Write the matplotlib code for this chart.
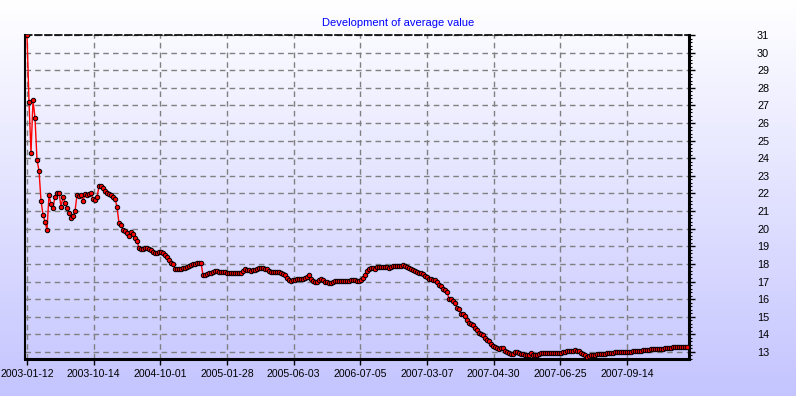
import numpy as np
import matplotlib
matplotlib.use("Agg")
import matplotlib.pyplot as plt
from matplotlib.ticker import MultipleLocator, FixedLocator

avg_values = [
    31.0, 27.2, 24.3, 27.3, 26.3, 23.9, 23.3, 21.6, 20.8, 20.4,
    19.95, 21.9, 21.4, 21.2, 21.8, 22.0, 22.05, 21.25, 21.8, 21.45,
    21.2, 20.9, 20.6, 20.7, 21.0, 21.9, 21.85, 21.9, 21.6, 21.95,
    21.9, 21.95, 22.0, 21.7, 21.65, 21.8, 22.4, 22.45, 22.3, 22.15,
    22.05, 21.97, 21.9, 21.8, 21.7, 21.25, 20.3, 20.2, 19.95, 19.85,
    19.75, 19.6, 19.8, 19.7, 19.45, 19.3, 18.9, 18.85, 18.86, 18.9,
    18.93, 18.86, 18.8, 18.65, 18.6, 18.6, 18.65, 18.68, 18.6, 18.52,
    18.4, 18.2, 18.07, 17.98, 17.7, 17.72, 17.73, 17.72, 17.75, 17.77,
    17.82, 17.88, 17.95, 18.0, 18.02, 18.03, 18.05, 18.07, 17.35, 17.35,
    17.4, 17.47, 17.5, 17.54, 17.57, 17.58, 17.55, 17.54, 17.54, 17.52,
    17.5, 17.5, 17.5, 17.48, 17.47, 17.47, 17.48, 17.5, 17.62, 17.69,
    17.67, 17.65, 17.62, 17.63, 17.65, 17.7, 17.75, 17.77, 17.74, 17.72,
    17.69, 17.58, 17.54, 17.54, 17.54, 17.54, 17.53, 17.5, 17.45, 17.38,
    17.2, 17.1, 17.05, 17.07, 17.09, 17.12, 17.14, 17.16, 17.16, 17.2,
    17.25, 17.35, 17.16, 17.03, 17.0, 16.97, 17.1, 17.15, 17.1, 17.0,
    16.95, 16.93, 16.9, 16.95, 17.01, 17.04, 17.05, 17.05, 17.05, 17.02,
    17.02, 17.05, 17.08, 17.08, 17.06, 17.04, 17.01, 17.08, 17.2, 17.38,
    17.6, 17.72, 17.75, 17.76, 17.73, 17.82, 17.84, 17.84, 17.84, 17.84,
    17.83, 17.76, 17.8, 17.9, 17.9, 17.88, 17.88, 17.9, 17.92, 17.88,
    17.84, 17.76, 17.72, 17.66, 17.6, 17.54, 17.5, 17.46, 17.42, 17.3,
    17.24, 17.15, 17.12, 17.09, 17.09, 17.0, 16.82, 16.77, 16.6, 16.5,
    16.4, 16.03, 15.98, 15.92, 15.8, 15.52, 15.43, 15.16, 15.14, 15.05,
    14.82, 14.65, 14.57, 14.52, 14.35, 14.22, 14.08, 14.0, 13.94, 13.78,
    13.68, 13.6, 13.45, 13.36, 13.3, 13.24, 13.19, 13.21, 13.2, 13.08,
    13.0, 12.96, 12.9, 12.9, 12.97, 13.0, 12.94, 12.91, 12.87, 12.84,
    12.81, 12.85, 12.95, 12.82, 12.83, 12.85, 12.88, 12.92, 12.93, 12.93,
    12.93, 12.93, 12.93, 12.93, 12.93, 12.94, 12.95, 12.96, 12.98, 13.02,
    13.04, 13.04, 13.04, 13.06, 13.11, 13.08, 13.04, 12.96, 12.9, 12.8,
    12.73, 12.77, 12.81, 12.83, 12.85, 12.87, 12.89, 12.89, 12.89, 12.9,
    12.92, 12.93, 12.94, 12.95, 12.97, 12.99, 13.0, 13.0, 13.0, 13.0,
    13.0, 13.0, 13.02, 13.05, 13.07, 13.07, 13.07, 13.08, 13.09, 13.1,
    13.11, 13.13, 13.15, 13.16, 13.17, 13.18, 13.18, 13.18, 13.19, 13.2,
    13.22, 13.23, 13.25, 13.26, 13.27, 13.29, 13.3, 13.3, 13.3, 13.3,
    13.3,
]

date_labels = ["2003-01-12", "2003-10-14", "2004-10-01", "2005-01-28", "2005-06-03",
               "2006-07-05", "2007-03-07", "2007-04-30", "2007-06-25", "2007-09-14"]

n = len(avg_values)
x = np.arange(n)
label_step = n / 9.93
label_pos = [i * label_step for i in range(len(date_labels))]

fig = plt.figure(figsize=(7.96, 3.96), dpi=100)

# gradient background behind everything
bg = fig.add_axes([0, 0, 1, 1], zorder=-1)
grad = np.linspace(0, 1, 256).reshape(-1, 1)
top = np.array([1.0, 1.0, 1.0])
bottom = np.array([0.77, 0.77, 1.0])
img = top + (bottom - top) * grad[..., None]
bg.imshow(img.repeat(2, axis=1), aspect="auto", extent=[0, 1, 0, 1])
bg.axis("off")

ax = fig.add_axes([25 / 796, 1 - 359 / 396, 664 / 796, 324 / 396])
ax.set_facecolor("none")

ax.plot(x, avg_values, color="red", lw=1, marker="o", ms=3.2,
        mfc="red", mec="black", mew=0.7, zorder=3)

ax.set_xlim(-1, n)
ax.set_ylim(12.6, 31)

ax.xaxis.set_major_locator(FixedLocator(label_pos))
ax.set_xticklabels(date_labels)
ax.yaxis.set_major_locator(MultipleLocator(1))
ax.yaxis.set_minor_locator(MultipleLocator(0.2))
ax.yaxis.tick_right()

ax.tick_params(axis="x", direction="out", length=4, width=1, pad=3,
               labelsize=7.6, color="black")
ax.tick_params(axis="y", which="major", direction="out", length=4, width=1,
               pad=45, labelsize=7.8, color="black")
ax.tick_params(axis="y", which="minor", direction="out", length=2.5, width=0.8,
               color="black")
for lab in ax.get_xticklabels() + ax.get_yticklabels():
    lab.set_fontfamily("Liberation Sans")
for lab in ax.get_yticklabels():
    lab.set_horizontalalignment("left")

ax.grid(True, which="major", color="#808080", linestyle=(0, (4, 3)), lw=1)

ax.spines["left"].set_linewidth(1.5)
ax.spines["bottom"].set_linewidth(2.2)
ax.spines["right"].set_linewidth(2.2)
ax.spines["top"].set_linewidth(1.2)
ax.spines["top"].set_linestyle((0, (4, 2)))
ax.spines["top"].set_color("black")

fig.text(0.5, 1 - 23 / 396, "Development of average value", color="#0000ff",
         ha="center", va="center", fontsize=8, family="Liberation Sans")

fig.savefig("out.png", dpi=100)
